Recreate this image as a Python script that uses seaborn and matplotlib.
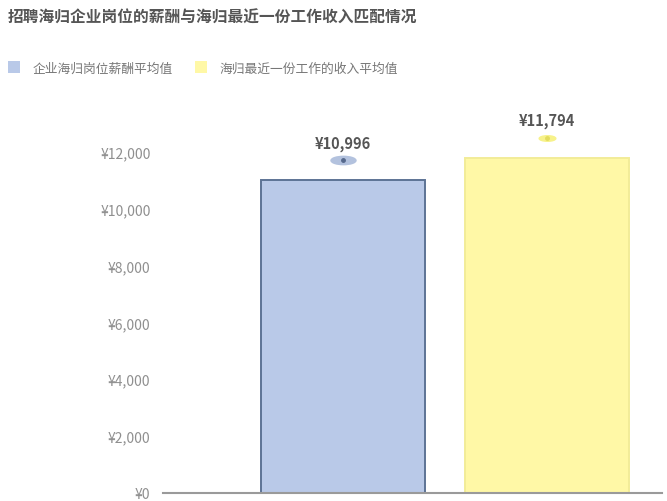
import matplotlib
matplotlib.use("Agg")
import matplotlib.pyplot as plt
import seaborn as sns
import pandas as pd
from matplotlib.patches import Patch
from matplotlib.path import Path
from matplotlib.transforms import Affine2D, offset_copy
from matplotlib.ticker import FuncFormatter

categories = ["企业海归岗位薪酬平均值", "海归最近一份工作的收入平均值"]
values = [10996, 11794]
yticks = [0, 2000, 4000, 6000, 8000, 10000, 12000]
title = "招聘海归企业岗位的薪酬与海归最近一份工作收入匹配情况"

fill_colors = ["#b9c9e8", "#fff8a6"]
edge_colors = ["#5d7395", "#f2ec98"]
dot_fills = ["#b3c2de", "#f7f28a"]
dot_centers = ["#56698c", "#e3dc5e"]

sns.set_theme(style="white")
plt.rcParams["font.family"] = ["Noto Sans CJK SC", "DejaVu Sans"]

fig = plt.figure(figsize=(6.67, 5.02), dpi=100)
ax = fig.add_axes([163 / 667, 8 / 502, (662 - 163) / 667, 398 / 502])

df = pd.DataFrame({"category": categories, "value": values})
sns.barplot(data=df, x="category", y="value", hue="category",
            palette=fill_colors, width=0.8, ax=ax, legend=False, saturation=1)
for p, ec in zip(ax.patches, edge_colors):
    p.set_edgecolor(ec)
    p.set_linewidth(1.4)

ax.set_xlim(-0.882, 1.564)
ax.set_ylim(0, 14000)
ax.set_yticks(yticks)
ax.yaxis.set_major_formatter(FuncFormatter(lambda v, pos: f"¥{v:,.0f}"))
ax.tick_params(axis="y", length=0, pad=9, labelsize=10, labelcolor="#8f8f8f")
ax.set_xticks([])
ax.set_xlabel("")
ax.set_ylabel("")
for s in ["left", "right", "top"]:
    ax.spines[s].set_visible(False)
ax.spines["bottom"].set_color("#9a9a9a")
ax.spines["bottom"].set_linewidth(1.5)

ell = Path.unit_circle().transformed(Affine2D().scale(3.0, 1.0))
trans = offset_copy(ax.transData, fig=fig, x=0, y=20, units="dots")
sizes = [18, 12]
for i, v in enumerate(values):
    ax.plot([i], [v], marker=ell, ms=sizes[i], color=dot_fills[i],
            mec=dot_fills[i], transform=trans, clip_on=False, ls="none")
    ax.plot([i], [v], marker="o", ms=2.5, color=dot_centers[i],
            mec=dot_centers[i], transform=trans, clip_on=False, ls="none")
    ax.annotate(f"¥{v:,}", (i, v), xytext=(0, 27), textcoords="offset points",
                ha="center", va="center", fontsize=10.5, fontweight="bold",
                color="#555555", annotation_clip=False)

fig.text(8 / 667, 1 - 18 / 502, title, fontsize=11.3, fontweight="bold",
         color="#555555", ha="left", va="center")

handles = [Patch(facecolor=fill_colors[0], edgecolor="none"),
           Patch(facecolor=fill_colors[1], edgecolor="none")]
fig.legend(handles, categories, loc="center left",
           bbox_to_anchor=(0.0, 1 - 69 / 502), ncol=2, frameon=False,
           fontsize=9.2, labelcolor="#777777", handlelength=1.0,
           handleheight=1.0, handletextpad=0.95, columnspacing=1.7,
           borderaxespad=0.2)

fig.savefig("out.png", dpi=100, facecolor="white")
